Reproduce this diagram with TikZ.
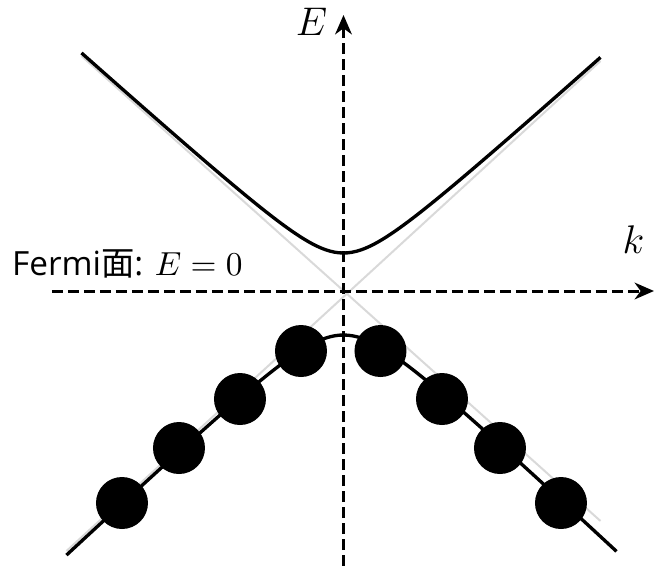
\documentclass[tikz,border=0pt]{standalone}
\usepackage{fontspec}
\setmainfont{Open Sans}
\newfontfamily\cjk{Noto Sans CJK SC}
\usetikzlibrary{arrows.meta}

\begin{document}
\begin{tikzpicture}[
        x=0.3pt, y=0.3pt,
        axis/.style={
            line width=0.9pt,
            dash pattern=on 3.3pt off 1.5pt,
            -{Stealth[length=5.8pt, width=5pt, inset=1.8pt]}
        },
        asymptote/.style={
            line width=0.6pt,
            black!15
        },
        band/.style={
            line width=1pt,
            black
        },
        electron/.style={
            circle,
            fill=black,
            inner sep=0pt,
            minimum size=15.6pt
        },
        axislabel/.style={
            font=\large,
            inner sep=0pt
        }
    ]

        \useasboundingbox (-343.5,-275) rectangle (312.5,291);

        % ---------------------------------------------------------------------
        % Asymptotes (light grey)
        % ---------------------------------------------------------------------

        \draw[asymptote] (-262,235) -- (257,-230);
        \draw[asymptote] (257,230) -- (-277,-260);

        % ---------------------------------------------------------------------
        % Conduction and valence bands
        % ---------------------------------------------------------------------

        \draw[band]
            plot[domain=-262:257, samples=120]
            (\x, {100*sqrt((0.897*\x/100)^2+0.38^2)});

        \draw[band]
            plot[domain=-277:273, samples=120]
            (\x, {-100*sqrt((0.94*\x/100)^2+0.44^2)});

        % ---------------------------------------------------------------------
        % Axes
        % ---------------------------------------------------------------------

        \coordinate (kstart) at (-291.5,0);
        \coordinate (kend) at (310.5,0);
        \coordinate (Estart) at (0,-275);
        \coordinate (Eend) at (0,276);

        \draw[axis] (kstart) -- (kend);
        \draw[axis] (Estart) -- (Eend);

        \node[axislabel] (klabel) at (290,51) {$k$};
        \node[axislabel] (Elabel) at (-32,269) {$E$};

        \node[
            anchor=base west,
            inner sep=0pt
        ] (fermi) at (-332,16) {Fermi{\cjk 面}: $E=0$};

        % ---------------------------------------------------------------------
        % Occupied states
        % ---------------------------------------------------------------------

        \node[electron] (l1) at (-42.5,-60) {};
        \node[electron] (l2) at (-103.5,-108) {};
        \node[electron] (l3) at (-164.5,-157) {};
        \node[electron] (l4) at (-221.5,-212) {};

        \node[electron] (r1) at (37,-60) {};
        \node[electron] (r2) at (98.5,-108) {};
        \node[electron] (r3) at (156.5,-157) {};
        \node[electron] (r4) at (217.5,-212) {};

    \end{tikzpicture}
\end{document}
